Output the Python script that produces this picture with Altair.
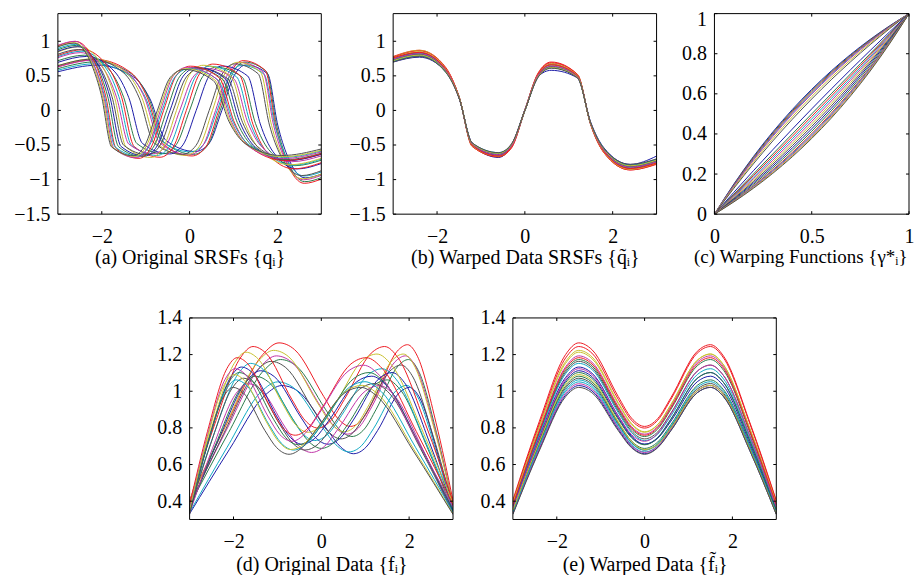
import altair as alt
import pandas as pd

# ---------------- data ----------------
S_GRID = [-3, -2.4, -1.8, -1.5, -1.2, -0.6, -0.3, 0, 0.3, 0.6, 1.2, 1.5, 1.8, 2.4, 3]
U_GRID = [0, .1, .2, .25, .3, .4, .45, .5, .55, .6, .7, .75, .8, .9, 1]

PALETTE = ["#1c1ca8", "#2a7a4a", "#ee1c24", "#10aac4", "#c034a8", "#c8c030", "#505050"]

# (c) warping functions gamma_i(u)
WARP_Y = [
    [0, .1505, .2868, .3499, .4100, .5215, .5733, .6225, .6693, .7138, .7964, .8347, .8711, .9388, 1],
    [0, .1478, .2822, .3448, .4044, .5155, .5672, .6165, .6636, .7085, .7920, .8309, .8680, .9372, 1],
    [0, .1450, .2776, .3395, .3987, .5094, .5612, .6106, .6579, .7031, .7876, .8271, .8649, .9355, 1],
    [0, .1423, .2730, .3343, .3931, .5034, .5551, .6047, .6522, .6977, .7832, .8233, .8617, .9338, 1],
    [0, .1396, .2685, .3292, .3875, .4973, .5490, .5987, .6464, .6923, .7787, .8193, .8584, .9320, 1],
    [0, .1343, .2595, .3189, .3763, .4851, .5368, .5866, .6348, .6813, .7695, .8113, .8518, .9285, 1],
    [0, .1291, .2506, .3087, .3651, .4729, .5244, .5744, .6230, .6701, .7601, .8032, .8449, .9248, 1],
    [0, .1092, .2163, .2691, .3213, .4241, .4748, .5250, .5747, .6238, .7207, .7684, .8157, .9088, 1],
    [0, .1, .2, .25, .3, .4, .45, .5, .55, .6, .7, .75, .8, .9, 1],
    [0, .0956, .1921, .2408, .2895, .3880, .4377, .4875, .5376, .5880, .6895, .7405, .7920, .8954, 1],
    [0, .0912, .1843, .2316, .2793, .3762, .4253, .4750, .5252, .5759, .6787, .7309, .7837, .8908, 1],
    [0, .0870, .1768, .2226, .2692, .3644, .4131, .4626, .5128, .5637, .6679, .7212, .7753, .8860, 1],
    [0, .0830, .1694, .2138, .2592, .3528, .4010, .4502, .5003, .5515, .6570, .7114, .7668, .8811, 1],
    [0, .0790, .1621, .2053, .2495, .3413, .3890, .4378, .4879, .5393, .6460, .7014, .7581, .8760, 1],
    [0, .0752, .1551, .1968, .2399, .3299, .3770, .4256, .4756, .5271, .6349, .6913, .7494, .8709, 1],
    [0, .0715, .1482, .1887, .2305, .3187, .3652, .4134, .4632, .5149, .6237, .6811, .7405, .8657, 1],
    [0, .0680, .1416, .1807, .2213, .3077, .3536, .4013, .4510, .5027, .6125, .6708, .7315, .8604, 1],
    [0, .0662, .1383, .1767, .2168, .3023, .3478, .3953, .4449, .4966, .6069, .6657, .7270, .8577, 1],
    [0, .0645, .1351, .1729, .2124, .2969, .3421, .3894, .4388, .4906, .6013, .6605, .7224, .8550, 1],
    [0, .0628, .1320, .1691, .2080, .2915, .3364, .3835, .4328, .4845, .5956, .6552, .7178, .8522, 1],
    [0, .0612, .1289, .1653, .2036, .2862, .3307, .3775, .4267, .4785, .5900, .6501, .7132, .8495, 1],
]

# time positions of the original (unaligned) curves, panels (a) and (d)
ORIG_X = [
    [-3, -2.097, -1.279, -0.901, -0.540, 0.129, 0.440, 0.735, 1.016, 1.283, 1.778, 2.008, 2.227, 2.633, 3],
    [-3, -2.113, -1.307, -0.931, -0.574, 0.093, 0.403, 0.699, 0.982, 1.251, 1.752, 1.985, 2.208, 2.623, 3],
    [-3, -2.130, -1.334, -0.963, -0.608, 0.056, 0.367, 0.664, 0.947, 1.219, 1.726, 1.963, 2.189, 2.613, 3],
    [-3, -2.146, -1.362, -0.994, -0.641, 0.020, 0.331, 0.628, 0.913, 1.186, 1.699, 1.940, 2.170, 2.603, 3],
    [-3, -2.162, -1.389, -1.025, -0.675, -0.016, 0.294, 0.592, 0.878, 1.154, 1.672, 1.916, 2.150, 2.592, 3],
    [-3, -2.194, -1.443, -1.087, -0.742, -0.089, 0.221, 0.520, 0.809, 1.088, 1.617, 1.868, 2.111, 2.571, 3],
    [-3, -2.225, -1.496, -1.148, -0.809, -0.163, 0.146, 0.446, 0.738, 1.021, 1.561, 1.819, 2.069, 2.549, 3],
    [-3, -2.345, -1.702, -1.385, -1.072, -0.455, -0.151, 0.150, 0.448, 0.743, 1.324, 1.610, 1.894, 2.453, 3],
    [-3, -2.4, -1.8, -1.5, -1.2, -0.6, -0.3, 0, 0.3, 0.6, 1.2, 1.5, 1.8, 2.4, 3],
    [-3, -2.426, -1.847, -1.555, -1.263, -0.672, -0.374, -0.075, 0.226, 0.528, 1.137, 1.443, 1.752, 2.372, 3],
    [-3, -2.453, -1.894, -1.610, -1.324, -0.743, -0.448, -0.150, 0.151, 0.455, 1.072, 1.385, 1.702, 2.345, 3],
    [-3, -2.478, -1.939, -1.664, -1.385, -0.814, -0.521, -0.224, 0.077, 0.382, 1.007, 1.327, 1.652, 2.316, 3],
    [-3, -2.502, -1.984, -1.717, -1.445, -0.883, -0.594, -0.299, 0.002, 0.309, 0.942, 1.268, 1.601, 2.287, 3],
    [-3, -2.526, -2.027, -1.768, -1.503, -0.952, -0.666, -0.373, -0.073, 0.236, 0.876, 1.208, 1.549, 2.256, 3],
    [-3, -2.549, -2.069, -1.819, -1.561, -1.021, -0.738, -0.446, -0.146, 0.163, 0.809, 1.148, 1.496, 2.225, 3],
    [-3, -2.571, -2.111, -1.868, -1.617, -1.088, -0.809, -0.520, -0.221, 0.089, 0.742, 1.087, 1.443, 2.194, 3],
    [-3, -2.592, -2.150, -1.916, -1.672, -1.154, -0.878, -0.592, -0.294, 0.016, 0.675, 1.025, 1.389, 2.162, 3],
    [-3, -2.603, -2.170, -1.940, -1.699, -1.186, -0.913, -0.628, -0.331, -0.020, 0.641, 0.994, 1.362, 2.146, 3],
    [-3, -2.613, -2.189, -1.963, -1.726, -1.219, -0.947, -0.664, -0.367, -0.056, 0.608, 0.963, 1.334, 2.130, 3],
    [-3, -2.623, -2.208, -1.985, -1.752, -1.251, -0.982, -0.699, -0.403, -0.093, 0.574, 0.931, 1.307, 2.113, 3],
    [-3, -2.633, -2.227, -2.008, -1.778, -1.283, -1.016, -0.735, -0.440, -0.129, 0.540, 0.901, 1.279, 2.097, 3],
]

# function values (panels (d) and (e))
F_VALS = [
    [.331, .681, .979, 1.031, 1.002, .792, .696, .659, .694, .786, .992, 1.021, .970, .674, .328],
    [.377, .774, 1.114, 1.173, 1.139, .902, .794, .753, .794, .902, 1.139, 1.173, 1.114, .774, .377],
    [.406, .834, 1.200, 1.264, 1.227, .971, .854, .808, .851, .965, 1.218, 1.254, 1.191, .828, .403],
    [.338, .694, .999, 1.051, 1.021, .806, .708, .669, .702, .795, 1.002, 1.032, .980, .681, .331],
    [.383, .788, 1.133, 1.193, 1.159, .917, .808, .766, .808, .917, 1.159, 1.193, 1.133, .788, .383],
    [.393, .808, 1.162, 1.223, 1.188, .938, .825, .779, .819, .927, 1.169, 1.203, 1.143, .794, .386],
    [.373, .768, 1.104, 1.163, 1.129, .892, .783, .740, .778, .881, 1.110, 1.143, 1.085, .754, .367],
    [.357, .734, 1.056, 1.112, 1.080, .854, .751, .711, .748, .848, 1.071, 1.102, 1.047, .728, .354],
    [.347, .714, 1.027, 1.082, 1.050, .830, .729, .688, .723, .818, 1.032, 1.062, 1.008, .701, .341],
    [.399, .821, 1.181, 1.244, 1.208, .956, .842, .799, .842, .956, 1.208, 1.244, 1.181, .821, .399],
    [.370, .761, 1.095, 1.152, 1.119, .883, .775, .731, .766, .866, 1.091, 1.123, 1.066, .741, .360],
    [.334, .688, .989, 1.041, 1.011, .800, .703, .666, .700, .794, 1.002, 1.031, .980, .681, .331],
    [.390, .801, 1.152, 1.213, 1.178, .932, .820, .776, .817, .926, 1.169, 1.203, 1.143, .794, .386],
    [.344, .708, 1.018, 1.071, 1.040, .821, .720, .679, .711, .804, 1.012, 1.042, .989, .688, .334],
    [.364, .748, 1.075, 1.132, 1.099, .865, .757, .711, .743, .837, 1.052, 1.082, 1.028, .714, .347],
    [.354, .728, 1.047, 1.102, 1.070, .847, .746, .708, .746, .847, 1.070, 1.102, 1.047, .728, .354],
    [.380, .781, 1.124, 1.183, 1.149, .909, .801, .760, .801, .909, 1.149, 1.183, 1.124, .781, .380],
    [.341, .701, 1.008, 1.062, 1.031, .815, .717, .679, .714, .810, 1.022, 1.052, .999, .694, .338],
    [.360, .741, 1.066, 1.123, 1.091, .865, .764, .727, .770, .876, 1.109, 1.142, 1.085, .754, .367],
    [.351, .721, 1.037, 1.091, 1.059, .833, .728, .682, .710, .799, 1.003, 1.032, .980, .681, .331],
    [.328, .674, .970, 1.021, .992, .785, .692, .656, .692, .785, .992, 1.021, .970, .674, .328],
]

# (b) warped SRSFs
QW_VALS = [
    [.70, .77, .56, .18, -.47, -.63, -.49, .01, .49, .58, .47, -.17, -.54, -.78, -.66],
    [.75, .83, .59, .20, -.50, -.65, -.51, -.01, .52, .66, .50, -.20, -.60, -.84, -.75],
    [.78, .87, .62, .20, -.52, -.67, -.54, .01, .54, .70, .52, -.21, -.61, -.86, -.78],
    [.71, .79, .55, .19, -.47, -.61, -.49, 0, .48, .62, .47, -.18, -.55, -.79, -.71],
    [.76, .84, .60, .20, -.50, -.66, -.52, .01, .52, .67, .50, -.20, -.59, -.84, -.76],
    [.77, .87, .60, .20, -.51, -.67, -.52, 0, .53, .68, .51, -.20, -.60, -.85, -.77],
    [.74, .83, .59, .19, -.49, -.65, -.51, 0, .51, .66, .50, -.19, -.58, -.83, -.74],
    [.73, .81, .57, .19, -.49, -.68, -.50, 0, .50, .62, .49, -.19, -.57, -.81, -.73],
    [.72, .80, .57, .19, -.48, -.62, -.49, 0, .49, .62, .48, -.19, -.56, -.80, -.72],
    [.77, .86, .61, .20, -.52, -.67, -.53, 0, .53, .69, .52, -.20, -.61, -.86, -.77],
    [.74, .82, .58, .19, -.49, -.64, -.51, 0, .51, .64, .49, -.19, -.58, -.82, -.74],
    [.71, .79, .56, .18, -.47, -.62, -.48, 0, .48, .62, .47, -.18, -.56, -.79, -.71],
    [.76, .85, .60, .20, -.51, -.66, -.52, 0, .52, .66, .51, -.20, -.60, -.85, -.76],
    [.71, .79, .56, .19, -.48, -.62, -.49, 0, .49, .63, .48, -.19, -.56, -.79, -.71],
    [.73, .81, .57, .19, -.49, -.64, -.50, 0, .50, .63, .49, -.19, -.57, -.81, -.73],
    [.73, .81, .57, .19, -.49, -.63, -.50, 0, .50, .63, .49, -.19, -.57, -.81, -.73],
    [.76, .84, .59, .20, -.50, -.66, -.52, 0, .52, .66, .50, -.20, -.59, -.84, -.76],
    [.71, .79, .56, .19, -.48, -.62, -.49, 0, .49, .62, .48, -.19, -.56, -.79, -.71],
    [.74, .82, .58, .19, -.49, -.64, -.51, 0, .51, .64, .49, -.19, -.58, -.82, -.74],
    [.72, .80, .56, .19, -.48, -.62, -.49, 0, .49, .62, .48, -.19, -.56, -.80, -.72],
    [.70, .78, .55, .18, -.47, -.61, -.48, 0, .48, .61, .47, -.18, -.55, -.78, -.70],
]

# (a) original SRSFs
Q_VALS = [
    [.559, .654, .486, .165, -.432, -.594, -.480, 0, .505, .657, .528, -.212, -.656, -.975, -.921],
    [.604, .704, .522, .177, -.464, -.635, -.512, 0, .537, .699, .561, -.225, -.694, -1.030, -.972],
    [.633, .736, .545, .184, -.482, -.658, -.530, 0, .554, .720, .577, -.231, -.713, -1.054, -.992],
    [.581, .675, .498, .169, -.440, -.599, -.482, 0, .503, .652, .522, -.209, -.642, -.948, -.889],
    [.629, .728, .536, .182, -.472, -.642, -.516, 0, .537, .695, .554, -.222, -.681, -1.003, -.938],
    [.649, .746, .547, .184, -.479, -.649, -.520, 0, .539, .696, .551, -.219, -.674, -.988, -.921],
    [.646, .741, .540, .181, -.471, -.634, -.506, 0, .522, .673, .531, -.211, -.646, -.942, -.872],
    [.695, .781, .557, .185, -.478, -.629, -.498, 0, .503, .642, .497, -.195, -.592, -.846, -.768],
    [.719, .799, .565, .187, -.479, -.625, -.492, 0, .492, .625, .479, -.187, -.565, -.799, -.719],
    [.794, .879, .618, .205, -.521, -.677, -.531, 0, .529, .670, .511, -.200, -.600, -.844, -.755],
    [.779, .857, .600, .198, -.503, -.651, -.510, 0, .505, .638, .484, -.188, -.565, -.791, -.704],
    [.763, .836, .583, .191, -.486, -.625, -.489, 0, .481, .607, .458, -.178, -.533, -.742, -.657],
    [.846, .922, .639, .210, -.531, -.680, -.530, 0, .520, .653, .490, -.190, -.567, -.785, -.693],
    [.813, .881, .608, .199, -.502, -.640, -.498, 0, .485, .609, .454, -.176, -.523, -.721, -.633],
    [.855, .922, .633, .206, -.521, -.659, -.511, 0, .496, .621, .462, -.178, -.529, -.726, -.633],
    [.877, .941, .643, .209, -.525, -.663, -.513, 0, .495, .618, .457, -.176, -.521, -.711, -.618],
    [.934, .998, .679, .221, -.552, -.693, -.534, 0, .514, .640, .471, -.181, -.534, -.724, -.626],
    [.896, .954, .647, .210, -.525, -.658, -.507, 0, .486, .604, .443, -.170, -.501, -.679, -.586],
    [.941, 1.000, .676, .220, -.547, -.683, -.526, 0, .503, .624, .457, -.175, -.516, -.697, -.600],
    [.924, .980, .661, .213, -.533, -.665, -.511, 0, .488, .604, .441, -.168, -.497, -.670, -.575],
    [.919, .973, .655, .212, -.527, -.655, -.502, 0, .478, .592, .431, -.165, -.485, -.652, -.557],
]

TICKS_T = [-2, 0, 2]
TICKS_SRSF = [-1.5, -1, -0.5, 0, 0.5, 1]
TICKS_UNIT_X = [0, 0.5, 1]
TICKS_UNIT_Y = [0, 0.2, 0.4, 0.6, 0.8, 1]
TICKS_F = [0.4, 0.6, 0.8, 1, 1.2, 1.4]

CAPTIONS = [
    "(a) Original SRSFs {qᵢ}",
    "(b) Warped Data SRSFs {q̃ᵢ}",
    "(c) Warping Functions {γ*ᵢ}",
    "(d) Original Data {fᵢ}",
    "(e) Warped Data {f̃ᵢ}",
]

# ---------------- build ----------------
N = len(F_VALS)
IDS = list(range(N))
COLOR_RANGE = [PALETTE[i % len(PALETTE)] for i in IDS]
FONT = "Liberation Serif"
TICK_LEN = 3
ONE = pd.DataFrame({"v": [0]})


def long_frame(xs_rows, ys_rows):
    recs = []
    for i, (xs, ys) in enumerate(zip(xs_rows, ys_rows)):
        for k, (xv, yv) in enumerate(zip(xs, ys)):
            recs.append({"curve": i, "k": k, "x": xv, "y": yv})
    return pd.DataFrame(recs)


def panel(df, xdom, ydom, xticks, yticks, w, h, title, yext, tpad, title_kw=None, yaxis_kw=None):
    xs = alt.Scale(domain=xdom, nice=False, zero=False)
    ys = alt.Scale(domain=ydom, nice=False, zero=False)
    xax = alt.Axis(values=xticks, title=title, format="~g", labelPadding=12, titlePadding=tpad,
                   **(title_kw or {}))
    yax = alt.Axis(values=yticks, title=None, format="~g", labelPadding=8,
                   minExtent=yext, maxExtent=yext, **(yaxis_kw or {}))
    xenc = alt.X("x:Q", scale=xs, axis=xax)
    yenc = alt.Y("y:Q", scale=ys, axis=yax)
    lines = alt.Chart(df).mark_line(strokeWidth=1, interpolate="monotone", clip=True).encode(
        x=xenc,
        y=yenc,
        color=alt.Color("curve:N", scale=alt.Scale(domain=IDS, range=COLOR_RANGE), legend=None),
        order=alt.Order("k:Q"),
    )
    xt = pd.DataFrame({"x": xticks})
    yt = pd.DataFrame({"y": yticks})
    rule = dict(color="black", strokeWidth=1)
    t_bottom = alt.Chart(xt).mark_rule(**rule).encode(
        x=xenc, y=alt.value(h), y2=alt.value(h - TICK_LEN))
    t_top = alt.Chart(xt).mark_rule(**rule).encode(
        x=xenc, y=alt.value(0), y2=alt.value(TICK_LEN))
    t_left = alt.Chart(yt).mark_rule(**rule).encode(
        y=yenc, x=alt.value(0), x2=alt.value(TICK_LEN))
    t_right = alt.Chart(yt).mark_rule(**rule).encode(
        y=yenc, x=alt.value(w), x2=alt.value(w - TICK_LEN))
    border = alt.Chart(ONE).mark_rect(fill="transparent", stroke="black", strokeWidth=1).encode(
        x=alt.value(0), x2=alt.value(w), y=alt.value(0), y2=alt.value(h))
    return alt.layer(lines, t_bottom, t_top, t_left, t_right, border).properties(width=w, height=h)


df_a = long_frame(ORIG_X, Q_VALS)
df_b = long_frame([S_GRID] * N, QW_VALS)
df_c = long_frame([U_GRID] * N, WARP_Y)
df_d = long_frame(ORIG_X, F_VALS)
df_e = long_frame([S_GRID] * N, F_VALS)

pa = panel(df_a, [-3, 3], [-1.5, 1.4], TICKS_T, TICKS_SRSF, 264, 201, CAPTIONS[0], 50, 1)
pb = panel(df_b, [-3, 3], [-1.5, 1.4], TICKS_T, TICKS_SRSF, 264, 201, CAPTIONS[1], 71, 1)
pc = panel(df_c, [0, 1], [0, 1], TICKS_UNIT_X, TICKS_UNIT_Y, 195, 201, CAPTIONS[2], 57, 1,
           title_kw=dict(titleFontSize=19, titleX=86, titleAlign="center"),
           yaxis_kw=dict(labelOffset={"condition": {"test": "datum.value === 1", "value": 6},
                                      "value": 0}))
pd_ = panel(df_d, [-3, 3], [0.3, 1.4], TICKS_T, TICKS_F, 264, 202, CAPTIONS[3], 50, 3)
pe = panel(df_e, [-3, 3], [0.3, 1.4], TICKS_T, TICKS_F, 264, 202, CAPTIONS[4], 59, 3)

spacer = alt.Chart(ONE).mark_point(opacity=0).encode(
    x=alt.X("v:Q", axis=None), y=alt.Y("v:Q", axis=None)
).properties(width=82, height=202)

top = alt.hconcat(pa, pb, pc, spacing=0)
bottom = alt.hconcat(spacer, pd_, pe, spacing=0)

chart = alt.vconcat(top, bottom, spacing=41).properties(
    padding={"left": 0, "top": 1, "right": 0, "bottom": 0},
    background="white",
).configure_view(
    strokeOpacity=0
).configure_axis(
    labelFont=FONT, labelFontSize=20, labelColor="black", labelFlush=False, labelOverlap=False,
    titleFont=FONT, titleFontSize=20, titleFontWeight="normal", titleColor="black",
    domain=False, ticks=False, grid=False,
)

chart.save("out.html", embed_options={"renderer": "svg", "actions": False})
